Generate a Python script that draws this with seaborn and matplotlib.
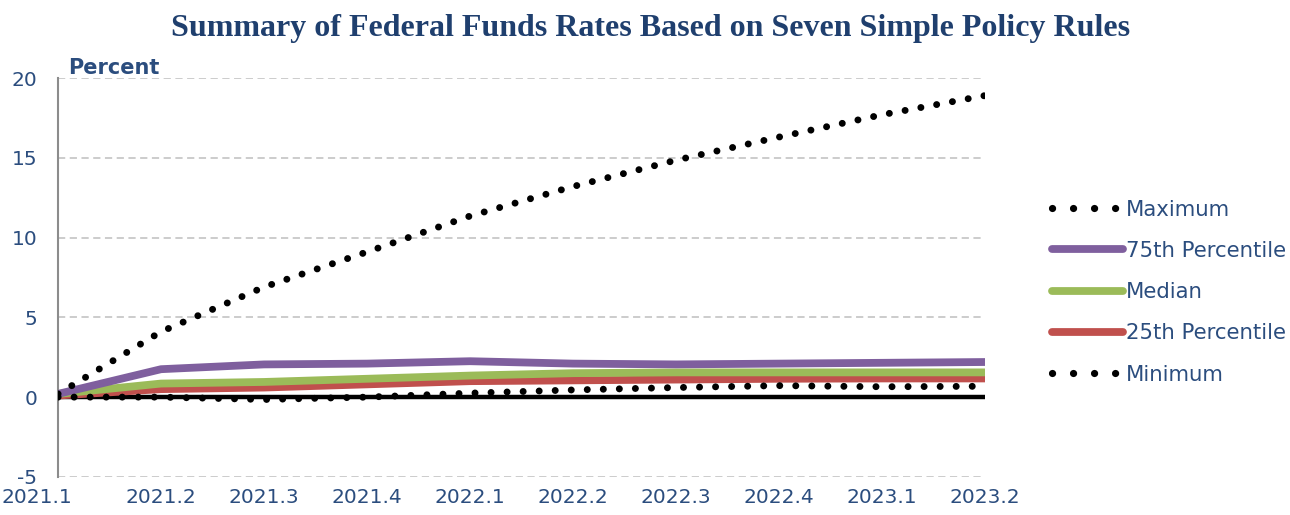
import matplotlib
matplotlib.use("Agg")
import matplotlib.pyplot as plt
import matplotlib.transforms as mtransforms
from matplotlib.lines import Line2D
import seaborn as sns
import pandas as pd

quarters = ["2021.1", "2021.2", "2021.3", "2021.4", "2022.1",
            "2022.2", "2022.3", "2022.4", "2023.1", "2023.2"]
maximum = [0.2, 4.1, 6.9, 9.1, 11.35, 13.2, 14.85, 16.3, 17.7, 18.9]
pct75 = [0.2, 1.75, 2.05, 2.1, 2.25, 2.1, 2.05, 2.1, 2.15, 2.2]
median = [0.2, 0.85, 0.95, 1.15, 1.35, 1.5, 1.55, 1.55, 1.55, 1.55]
pct25 = [0.1, 0.5, 0.6, 0.8, 1.0, 1.05, 1.1, 1.15, 1.17, 1.17]
minimum = [0.0, 0.0, -0.15, 0.0, 0.25, 0.45, 0.6, 0.72, 0.65, 0.68]
zero = [0.0] * len(quarters)

series_names = ["Maximum", "75th Percentile", "Median", "25th Percentile", "Minimum"]
series_vals = [maximum, pct75, median, pct25, minimum]
colors = {"Maximum": "black", "75th Percentile": "#7F5F9E", "Median": "#9BBB59",
          "25th Percentile": "#C0504D", "Minimum": "black"}

rows = []
for name, vals in zip(series_names, series_vals):
    for i, v in enumerate(vals):
        rows.append({"series": name, "x": i, "value": v})
df = pd.DataFrame(rows)

sns.set_style("white")
plt.rcParams["font.family"] = ["DejaVu Sans"]
plt.rcParams["axes.unicode_minus"] = False

navy = "#2B4D7E"
fig = plt.figure(figsize=(12.9, 5.15), dpi=100)
ax = fig.add_axes([0.045, 0.074, 0.7186, 0.7745])

ax.set_ylim(-5, 20)
ax.set_xlim(0, len(quarters) - 1)
ax.set_yticks([-5, 0, 5, 10, 15, 20])
for y in [-5, 5, 10, 15, 20]:
    ax.axhline(y, color="#C8C8C8", lw=1.3, ls=(0, (4, 2.5)), zorder=0)

# zero line
sns.lineplot(x=list(range(len(quarters))), y=zero, ax=ax, color="black", lw=3.2,
             legend=False, zorder=2)

draw_order = ["25th Percentile", "Median", "75th Percentile", "Minimum", "Maximum"]
for name in draw_order:
    sub = df[df["series"] == name]
    if name in ("Maximum", "Minimum"):
        sns.lineplot(data=sub, x="x", y="value", ax=ax, color="black", lw=5.0,
                     ls=(0, (0.01, 2.3)), dash_capstyle="round", legend=False, zorder=4)
    else:
        sns.lineplot(data=sub, x="x", y="value", ax=ax, color=colors[name], lw=5.6,
                     legend=False, zorder=3, solid_capstyle="butt")

ax.set_xticks(range(len(quarters)))
ax.set_xticklabels(quarters)
ax.set_xlabel("")
ax.set_ylabel("")
ax.tick_params(axis="both", length=0, labelsize=14.5, labelcolor=navy)
ax.tick_params(axis="x", pad=8)
ax.tick_params(axis="y", pad=15)
first = ax.get_xticklabels()[0]
first.set_transform(first.get_transform() +
                    mtransforms.ScaledTranslation(-0.21, 0, fig.dpi_scale_trans))
for s in ["top", "right", "bottom"]:
    ax.spines[s].set_visible(False)
ax.spines["left"].set_color("#8C8C8C")
ax.spines["left"].set_linewidth(1.5)

ax.text(0.011, 1.0, "Percent", transform=ax.transAxes, fontsize=15, fontweight="bold",
        color=navy, va="bottom", ha="left")

fig.text(0.504, 0.945, "Summary of Federal Funds Rates Based on Seven Simple Policy Rules",
         ha="center", va="center", fontsize=23, fontweight="bold", color="#1F3F6E",
         family=["Liberation Serif", "DejaVu Serif"])

leg_handles = []
for name in series_names:
    if name in ("Maximum", "Minimum"):
        leg_handles.append(Line2D([], [], color="black", lw=5.2, ls=(0, (0.01, 2.9)),
                                  dash_capstyle="round"))
    else:
        leg_handles.append(Line2D([], [], color=colors[name], lw=5.6,
                                  solid_capstyle="round"))
leg = fig.legend(leg_handles, series_names, loc="center left",
                 bbox_to_anchor=(0.801, 0.433), frameon=False, fontsize=15.3,
                 handlelength=3.3, handletextpad=0.15, labelspacing=1.0)
for t in leg.get_texts():
    t.set_color(navy)

fig.savefig("out.png", dpi=100)
